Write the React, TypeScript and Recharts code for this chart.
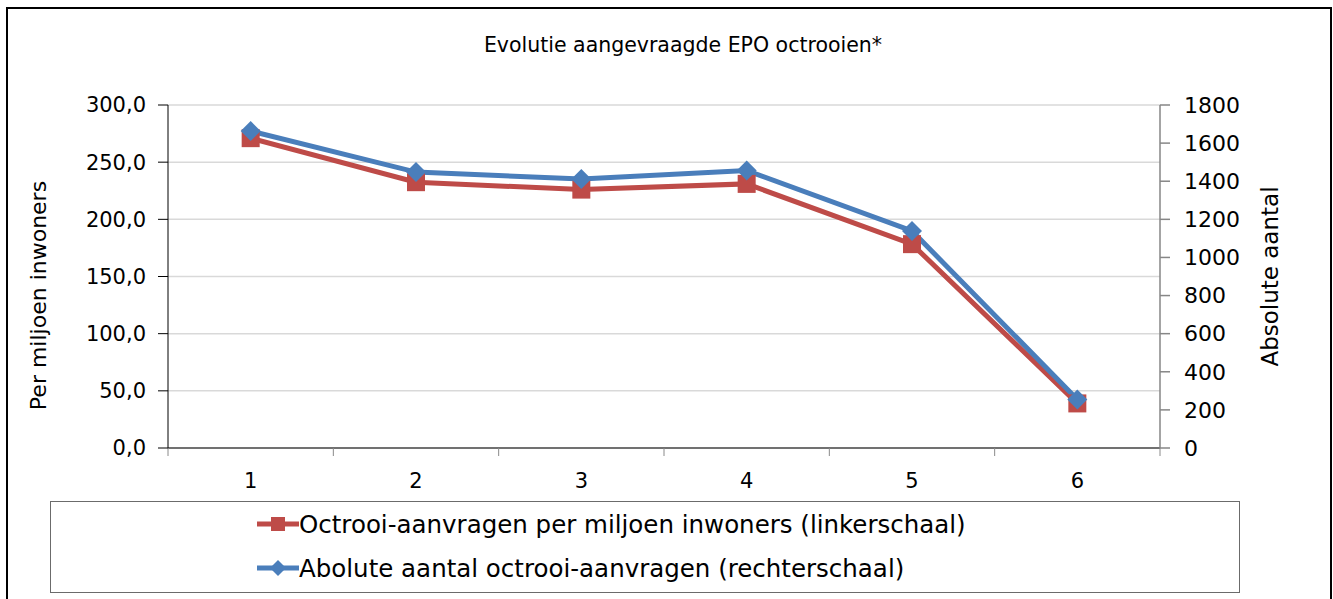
import { CartesianGrid, Line, LineChart, XAxis, YAxis } from 'recharts'

const categories = [1, 2, 3, 4, 5, 6]
const perMillion = [271.0, 232.5, 226.0, 231.0, 178.3, 39.0]
const absoluteCount = [1663, 1448, 1412, 1456, 1139, 255]
const leftTicks = [0, 50, 100, 150, 200, 250, 300]
const rightTicks = [0, 200, 400, 600, 800, 1000, 1200, 1400, 1600, 1800]
const boundaryTicks = [0.5, 1.5, 2.5, 3.5, 4.5, 5.5, 6.5]

const title = 'Evolutie aangevraagde EPO octrooien*'
const redName = 'Octrooi-aanvragen per miljoen inwoners (linkerschaal)'
const blueName = 'Abolute aantal octrooi-aanvragen (rechterschaal)'

const RED = '#BE4B48'
const BLUE = '#4A7EBB'
const FONT = "Tahoma, 'DejaVu Sans', sans-serif"

const data = categories.map((cat, i) => ({
  cat,
  perMillion: perMillion[i],
  absoluteCount: absoluteCount[i],
}))

const commaFmt = (v: number) => v.toFixed(1).replace('.', ',')

function SquareDot(props: any) {
  const { cx, cy, index } = props
  return <rect key={`sq-${index}`} x={cx - 9} y={cy - 9} width={18} height={18} fill={RED} />
}

function DiamondDot(props: any) {
  const { cx, cy, index } = props
  const r = 10
  return (
    <polygon
      key={`dm-${index}`}
      points={`${cx},${cy - r} ${cx + r},${cy} ${cx},${cy + r} ${cx - r},${cy}`}
      fill={BLUE}
    />
  )
}

function LegendIcon({ color, shape }: { color: string; shape: 'square' | 'diamond' }) {
  return (
    <svg width={42} height={20} style={{ display: 'block' }}>
      <line x1={0} y1={10} x2={42} y2={10} stroke={color} strokeWidth={5} strokeLinecap="round" />
      {shape === 'square' ? (
        <rect x={14} y={3} width={14} height={14} fill={color} />
      ) : (
        <polygon points="21,2 29,10 21,18 13,10" fill={color} />
      )}
    </svg>
  )
}

export default function App() {
  return (
    <div
      style={{
        position: 'absolute',
        left: 6,
        top: 7,
        width: 1326,
        height: 600,
        border: '2px solid #000',
        boxSizing: 'border-box',
        background: '#fff',
        fontFamily: FONT,
        color: '#000',
      }}
    >
      <div
        style={{
          position: 'absolute',
          left: 0,
          width: 1350,
          top: 24,
          textAlign: 'center',
          fontSize: 20.5,
        }}
      >
        {title}
      </div>

      <div style={{ position: 'absolute', left: 0, top: 0 }}>
        <LineChart
          width={1322}
          height={500}
          data={data}
          margin={{ top: 96, right: 20, bottom: 21, left: 10 }}
        >
          <CartesianGrid yAxisId="left" vertical={false} stroke="#d9d9d9" strokeWidth={1.5} />
          <XAxis
            xAxisId="bounds"
            dataKey="cat"
            type="number"
            domain={[0.5, 6.5]}
            ticks={boundaryTicks}
            tickFormatter={() => ''}
            tickSize={8}
            height={10}
            axisLine={{ stroke: '#000' }}
            tickLine={{ stroke: '#8a8a8a' }}
          />
          <XAxis
            xAxisId="labels"
            dataKey="cat"
            type="number"
            domain={[0.5, 6.5]}
            ticks={categories}
            axisLine={false}
            tickLine={false}
            tickMargin={9}
            height={30}
            tick={{ fill: '#000', fontSize: 21 }}
          />
          <YAxis
            yAxisId="left"
            domain={[0, 300]}
            ticks={leftTicks}
            tickFormatter={commaFmt}
            width={150}
            tickSize={10}
            tickMargin={12}
            axisLine={{ stroke: '#000' }}
            tickLine={{ stroke: '#000' }}
            tick={{ fill: '#000', fontSize: 21 }}
            label={{
              value: 'Per miljoen inwoners',
              angle: -90,
              position: 'insideLeft',
              offset: 20,
              dy: 19,
              style: { textAnchor: 'middle', fontSize: 22, fill: '#000' },
            }}
          />
          <YAxis
            yAxisId="right"
            orientation="right"
            domain={[0, 1800]}
            ticks={rightTicks}
            width={150}
            tickSize={10}
            tickMargin={14}
            axisLine={{ stroke: '#868686', strokeWidth: 1.5 }}
            tickLine={{ stroke: '#868686', strokeWidth: 1.5 }}
            tick={{ fill: '#000', fontSize: 22 }}
            label={{
              value: 'Absolute aantal',
              angle: -90,
              position: 'insideRight',
              offset: 40,
              style: { textAnchor: 'middle', fontSize: 23, fill: '#000' },
            }}
          />
          <Line
            xAxisId="bounds"
            yAxisId="left"
            dataKey="perMillion"
            stroke={RED}
            strokeWidth={5}
            dot={SquareDot}
            activeDot={false}
            isAnimationActive={false}
          />
          <Line
            xAxisId="bounds"
            yAxisId="right"
            dataKey="absoluteCount"
            stroke={BLUE}
            strokeWidth={5}
            dot={DiamondDot}
            activeDot={false}
            isAnimationActive={false}
          />
        </LineChart>
      </div>

      <div
        style={{
          position: 'absolute',
          left: 42,
          top: 492,
          width: 1190,
          height: 92,
          border: '1.5px solid #6b6b6b',
          boxSizing: 'border-box',
        }}
      >
        {[
          { name: redName, color: RED, shape: 'square' as const, top: 22 },
          { name: blueName, color: BLUE, shape: 'diamond' as const, top: 66 },
        ].map((item) => (
          <div
            key={item.name}
            style={{
              position: 'absolute',
              left: 206,
              top: item.top - 15,
              height: 30,
              display: 'flex',
              alignItems: 'center',
              fontSize: 24.5,
              whiteSpace: 'nowrap',
            }}
          >
            <LegendIcon color={item.color} shape={item.shape} />
            <span>{item.name}</span>
          </div>
        ))}
      </div>
    </div>
  )
}
